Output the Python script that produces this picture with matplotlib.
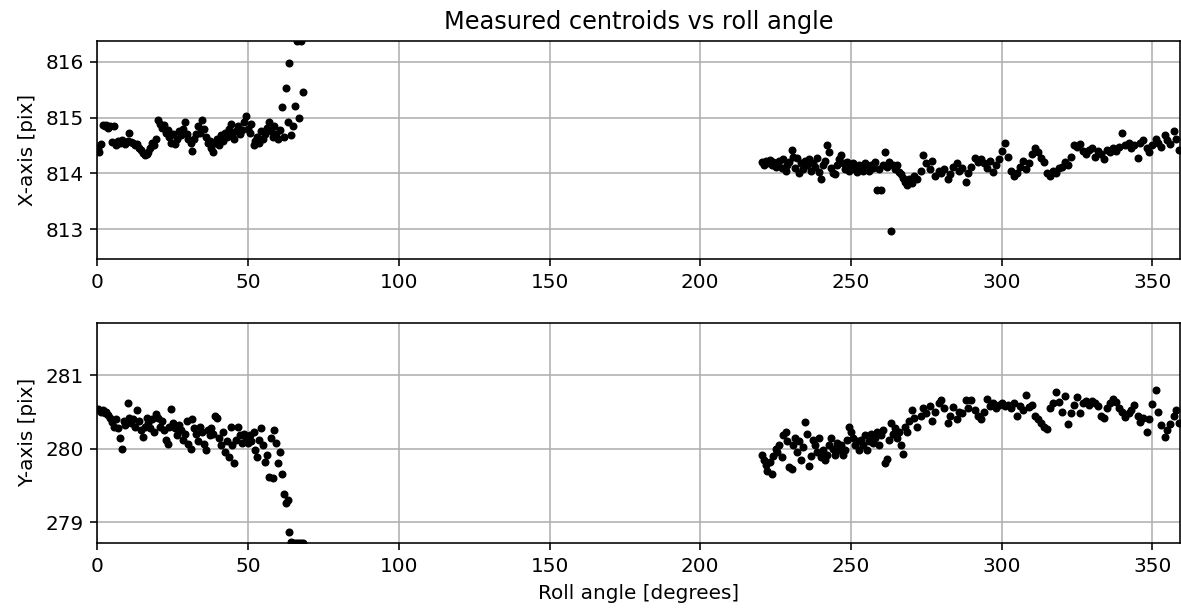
import matplotlib

matplotlib.use("Agg")
import matplotlib.pyplot as plt
import numpy as np

# roll angles [deg] of the two observing windows
roll_a = [0.2, 0.6, 1.1, 1.7, 2.4, 3.0, 3.6, 4.3, 4.9, 5.5, 6.1, 6.8, 7.4, 8.0, 8.7, 9.3,
          10.0, 10.6, 11.2, 11.9, 12.5, 13.1, 13.8, 14.4, 15.0, 15.7, 16.3, 16.9, 17.6, 18.2,
          18.8, 19.5, 20.1, 20.7, 21.4, 22.0, 22.6, 23.3, 23.9, 24.5, 25.2, 25.8, 26.4, 27.1,
          27.7, 28.3, 29.0, 29.6, 30.2, 30.9, 31.5, 32.1, 32.8, 33.4, 34.0, 34.7, 35.3, 35.9,
          36.6, 37.2, 37.8, 38.5, 39.1, 39.7, 40.4, 41.0, 41.6, 42.3, 42.9, 43.5, 44.2, 44.8,
          45.4, 46.1, 46.7, 47.3, 48.0, 48.6, 49.2, 49.9, 50.5, 51.1, 51.8, 52.4, 53.0, 53.7,
          54.3, 54.9, 55.6, 56.2, 56.8, 57.5, 58.1, 58.7, 59.4, 60.0, 60.6, 61.2, 61.9, 62.5,
          63.1, 63.7, 64.3, 65.0, 65.6, 66.2, 66.9, 67.5, 68.2]
roll_b = [220.4, 221.0, 221.7, 222.3, 223.0, 223.7, 224.3, 225.0, 225.6, 226.3, 227.0, 227.6,
          228.3, 228.9, 229.6, 230.3, 230.9, 231.6, 232.2, 232.9, 233.6, 234.2, 234.9, 235.5,
          236.2, 236.9, 237.5, 238.2, 238.8, 239.5, 240.2, 240.8, 241.5, 242.1, 242.8, 243.5,
          244.1, 244.8, 245.4, 246.1, 246.8, 247.4, 248.1, 248.7, 249.4, 250.1, 250.7, 251.4,
          252.0, 252.7, 253.4, 254.0, 254.7, 255.3, 256.0, 256.7, 257.3, 258.0, 258.6, 259.3,
          260.0, 260.6, 261.3, 261.9, 262.6, 263.3, 263.9, 264.6, 265.2, 265.9, 266.6, 267.2,
          267.9, 268.5, 269.2,
          270.1, 271.0, 272.0, 273.1, 274.0, 275.0, 276.1, 277.0, 278.0, 279.1, 280.0, 281.0,
          282.1, 283.0, 284.0, 285.1, 286.0, 287.0, 288.1, 289.0, 290.0, 291.1, 292.0, 293.0,
          294.1, 295.0, 296.0, 297.1, 298.0, 299.0, 300.1, 301.0, 302.0, 303.1, 304.0, 305.0,
          306.1, 307.0, 308.0, 309.1, 310.0, 311.0, 312.1, 313.0, 314.0, 315.1, 316.0, 317.0,
          318.1, 319.0, 320.0, 321.1, 322.0, 323.0, 324.1, 325.0, 326.0, 327.1, 328.0, 329.0,
          330.1, 331.0, 332.0, 333.1, 334.0, 335.0, 336.1, 337.0, 338.0, 339.1, 340.0, 341.0,
          342.1, 343.0, 344.0, 345.1, 346.0, 347.0, 348.1, 349.0, 350.0, 351.1, 352.0, 353.0,
          354.1, 355.0, 356.0, 357.1, 358.0, 359.0]

# measured x centroids [pix]
xc_a = [814.45, 814.38, 814.52, 814.86, 814.84, 814.86, 814.82, 814.85, 814.56, 814.84,
        814.50, 814.58, 814.55, 814.60, 814.55, 814.52, 814.58, 814.72, 814.57, 814.55,
        814.50, 814.52, 814.45, 814.42, 814.36, 814.32, 814.34, 814.38, 814.45, 814.55,
        814.50, 814.62, 814.95, 814.88, 814.82, 814.86, 814.72, 814.78, 814.65, 814.55,
        814.70, 814.52, 814.62, 814.75, 814.68, 814.80, 814.92, 814.70, 814.62, 814.55,
        814.40, 814.62, 814.70, 814.85, 814.72, 814.96, 814.80, 814.65, 814.55, 814.58,
        814.45, 814.38, 814.55, 814.62, 814.50, 814.68, 814.58, 814.72, 814.65, 814.80,
        814.88, 814.70, 814.62, 814.75, 814.85, 814.70, 814.78, 814.92, 815.02, 814.80,
        814.72, 814.88, 814.50, 814.58, 814.65, 814.55, 814.75, 814.62, 814.70, 814.82,
        814.92, 814.75, 814.65, 814.85, 814.70, 814.62, 814.78, 815.18, 814.65, 815.52,
        814.92, 815.97, 814.68, 814.85, 815.20, 816.37, 815.00, 816.37, 815.45]
xc_b = [814.20, 814.15, 814.22, 814.18, 814.24, 814.15, 814.20, 814.12, 814.18, 814.22,
        814.10, 814.25, 814.05, 814.15, 814.20, 814.42, 814.30, 814.10, 814.28, 814.00,
        814.18, 814.08, 814.22, 814.15, 814.25, 814.05, 814.18, 814.12, 814.28, 814.02,
        813.90, 814.15, 814.22, 814.50, 814.38, 814.10, 814.00, 813.98, 814.15, 814.25,
        814.32, 814.18, 814.08, 814.20, 814.05, 814.12, 814.18, 814.08, 814.02, 814.15,
        814.10, 814.05, 814.18, 814.12, 814.05, 814.15, 814.10, 814.20, 813.70, 814.08,
        813.70, 814.15, 814.38, 814.12, 814.20, 812.97, 814.15, 814.08, 814.15, 814.02,
        813.98, 813.92, 813.85, 813.80, 813.90,
        813.82, 813.95, 813.90, 814.05, 814.32, 814.18, 814.08, 814.22, 813.95, 814.05,
        814.00, 814.08, 813.90, 813.98, 814.12, 814.18, 814.05, 814.10, 813.85, 814.00,
        814.12, 814.28, 814.20, 814.25, 814.18, 814.10, 814.22, 814.02, 814.15, 814.25,
        814.40, 814.55, 814.30, 814.05, 813.95, 814.00, 814.12, 814.22, 814.08, 814.18,
        814.35, 814.45, 814.38, 814.28, 814.20, 814.00, 813.95, 814.05, 814.00, 814.10,
        814.12, 814.20, 814.15, 814.30, 814.50, 814.48, 814.52, 814.40, 814.35, 814.42,
        814.45, 814.30, 814.40, 814.35, 814.25, 814.42, 814.38, 814.45, 814.40, 814.48,
        814.73, 814.50, 814.55, 814.45, 814.50, 814.28, 814.55, 814.60, 814.45, 814.38,
        814.50, 814.62, 814.55, 814.48, 814.68, 814.60, 814.52, 814.75, 814.62, 814.42]

# measured y centroids [pix]
yc_a = [280.54, 280.52, 280.50, 280.53, 280.48, 280.50, 280.46, 280.42, 280.36, 280.30,
        280.40, 280.28, 280.15, 280.00, 280.38, 280.32, 280.62, 280.42, 280.35, 280.40,
        280.30, 280.52, 280.38, 280.25, 280.16, 280.30, 280.42, 280.35, 280.28, 280.40,
        280.22, 280.47, 280.42, 280.30, 280.38, 280.25, 280.12, 280.07, 280.30, 280.54,
        280.35, 280.28, 280.18, 280.32, 280.25, 280.12, 280.20, 280.38, 280.06, 280.00,
        280.40, 280.28, 280.20, 280.10, 280.30, 280.22, 280.06, 279.98, 280.25, 280.18,
        280.28, 280.20, 280.45, 280.42, 280.15, 280.05, 280.22, 279.95, 280.10, 279.88,
        280.30, 280.05, 279.80, 280.12, 280.30, 280.18, 280.08, 280.20, 280.15, 280.08,
        280.18, 280.10, 280.22, 279.98, 279.88, 280.12, 280.28, 280.05, 279.82, 279.92,
        279.62, 280.15, 279.60, 280.25, 280.08, 279.80, 279.95, 279.65, 279.38, 279.26,
        279.30, 278.86, 278.73, 278.72, 278.72, 278.72, 278.72, 278.72, 278.72]
yc_b = [279.92, 279.85, 279.78, 279.70, 279.82, 279.66, 279.90, 280.00, 279.95, 280.05,
        279.88, 280.18, 280.22, 280.10, 279.75, 279.72, 280.05, 280.15, 279.95, 280.10,
        279.85, 280.02, 280.36, 280.20, 279.76, 279.90, 280.12, 280.05, 279.95, 280.15,
        279.88, 279.98, 279.85, 279.92, 280.05, 280.14, 280.00, 279.92, 280.08, 279.98,
        280.05, 279.92, 279.98, 280.12, 280.30, 280.22, 280.15, 280.05, 280.10, 279.98,
        280.12, 280.05, 280.18, 279.98, 280.10, 280.20, 280.08, 280.15, 280.22, 280.05,
        280.18, 280.25, 279.80, 279.86, 280.12, 280.35, 280.20, 280.28, 280.15, 280.22,
        280.05, 279.93, 280.30, 280.22, 280.38,
        280.52, 280.42, 280.30, 280.45, 280.55, 280.48, 280.58, 280.38, 280.50, 280.62,
        280.66, 280.55, 280.35, 280.45, 280.57, 280.40, 280.50, 280.48, 280.66, 280.55,
        280.66, 280.52, 280.45, 280.40, 280.50, 280.68, 280.58, 280.62, 280.55, 280.60,
        280.62, 280.58, 280.60, 280.55, 280.62, 280.44, 280.58, 280.52, 280.73, 280.57,
        280.60, 280.45, 280.40, 280.35, 280.30, 280.27, 280.55, 280.62, 280.77, 280.63,
        280.50, 280.72, 280.34, 280.48, 280.60, 280.70, 280.48, 280.62, 280.65, 280.60,
        280.65, 280.62, 280.58, 280.45, 280.42, 280.55, 280.62, 280.67, 280.63, 280.55,
        280.50, 280.43, 280.48, 280.52, 280.59, 280.45, 280.36, 280.42, 280.23, 280.40,
        280.61, 280.80, 280.50, 280.32, 280.16, 280.25, 280.34, 280.45, 280.52, 280.35]

roll = np.array(roll_a + roll_b)
xc = np.array(xc_a + xc_b)
yc = np.array(yc_a + yc_b)

fig, (ax1, ax2) = plt.subplots(2, 1, figsize=(1181 / 144, 610 / 144), dpi=144)
ax1.set_position([0.0825, 0.5749, 0.9167, 0.3584])
ax2.set_position([0.0825, 0.1103, 0.9167, 0.3602])

ax1.plot(roll, xc, "k.")
ax1.set_xlim(0, 359.2)
ax1.set_ylim(812.46, 816.376)
ax1.set_ylabel("X-axis [pix]")
ax1.set_title("Measured centroids vs roll angle")
ax1.grid(True)

ax2.plot(roll, yc, "k.")
ax2.set_xlim(0, 359.2)
ax2.set_ylim(278.72, 281.71)
ax2.set_ylabel("Y-axis [pix]")
ax2.set_xlabel("Roll angle [degrees]")
ax2.grid(True)

fig.savefig("out.png", dpi=144)
